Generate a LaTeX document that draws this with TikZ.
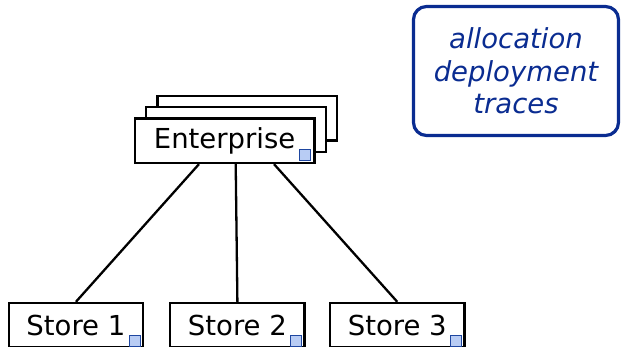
\documentclass[tikz,border=0pt]{standalone}
\usepackage{fontspec}
\setmainfont{DejaVu Sans}
\definecolor{tracenavy}{RGB}{10,44,145}
\definecolor{tagfill}{RGB}{184,204,244}
\definecolor{tagline}{RGB}{30,70,160}
\tikzset{
  boxfont/.style={font=\fontsize{27.5}{32}\selectfont},
  unitbox/.style={draw=black, line width=2.3pt, fill=white, minimum width=#1,
    minimum height=44.5pt, inner sep=0pt, boxfont},
  unitbox/.default=134.3pt,
  tag/.style={draw=tagline, fill=tagfill, line width=0.9pt, minimum size=11pt, inner sep=0pt},
  link/.style={line width=2.3pt, black},
  notebox/.style={draw=tracenavy, line width=3.2pt, rounded corners=13pt, fill=white,
    minimum width=205pt, minimum height=129pt, align=center, text=tracenavy,
    font=\fontsize{27.5}{32.5}\selectfont\itshape}
}
\begin{document}
\begin{tikzpicture}[x=1pt,y=-1pt]
  \useasboundingbox (0,0) rectangle (621,347);
  \clip (0,0) rectangle (621,347);

  % stacked enterprise instances
  \node[unitbox=179.5pt] (ent3) at (247.2,118.3) {};
  \node[unitbox=179.5pt] (ent2) at (235.9,129.5) {};
  \node[unitbox=179.5pt] (ent) at (224.6,140.7) {Enterprise};
  \node[tag] (enttag) at ([xshift=-10.7pt,yshift=9.4pt]ent.south east) {};

  % stores
  \node[unitbox] (s1) at (75.9,325.25) {Store 1};
  \node[unitbox] (s2) at (237.4,325.25) {Store 2};
  \node[unitbox] (s3) at (397.3,325.25) {Store 3};
  \node[tag] (s1tag) at ([xshift=-9.5pt,yshift=8pt]s1.south east) {};
  \node[tag] (s2tag) at ([xshift=-9.5pt,yshift=8pt]s2.south east) {};
  \node[tag] (s3tag) at ([xshift=-9.5pt,yshift=8pt]s3.south east) {};

  % links
  \draw[link] ([xshift=-25.6pt]ent.south) -- (s1.north);
  \draw[link] ([xshift=11.1pt]ent.south) -- (s2.north);
  \draw[link] ([xshift=49.4pt]ent.south) -- (s3.north);

  % annotation
  \node[notebox] (note) at (516,71) {allocation\\deployment\\traces};
\end{tikzpicture}
\end{document}
